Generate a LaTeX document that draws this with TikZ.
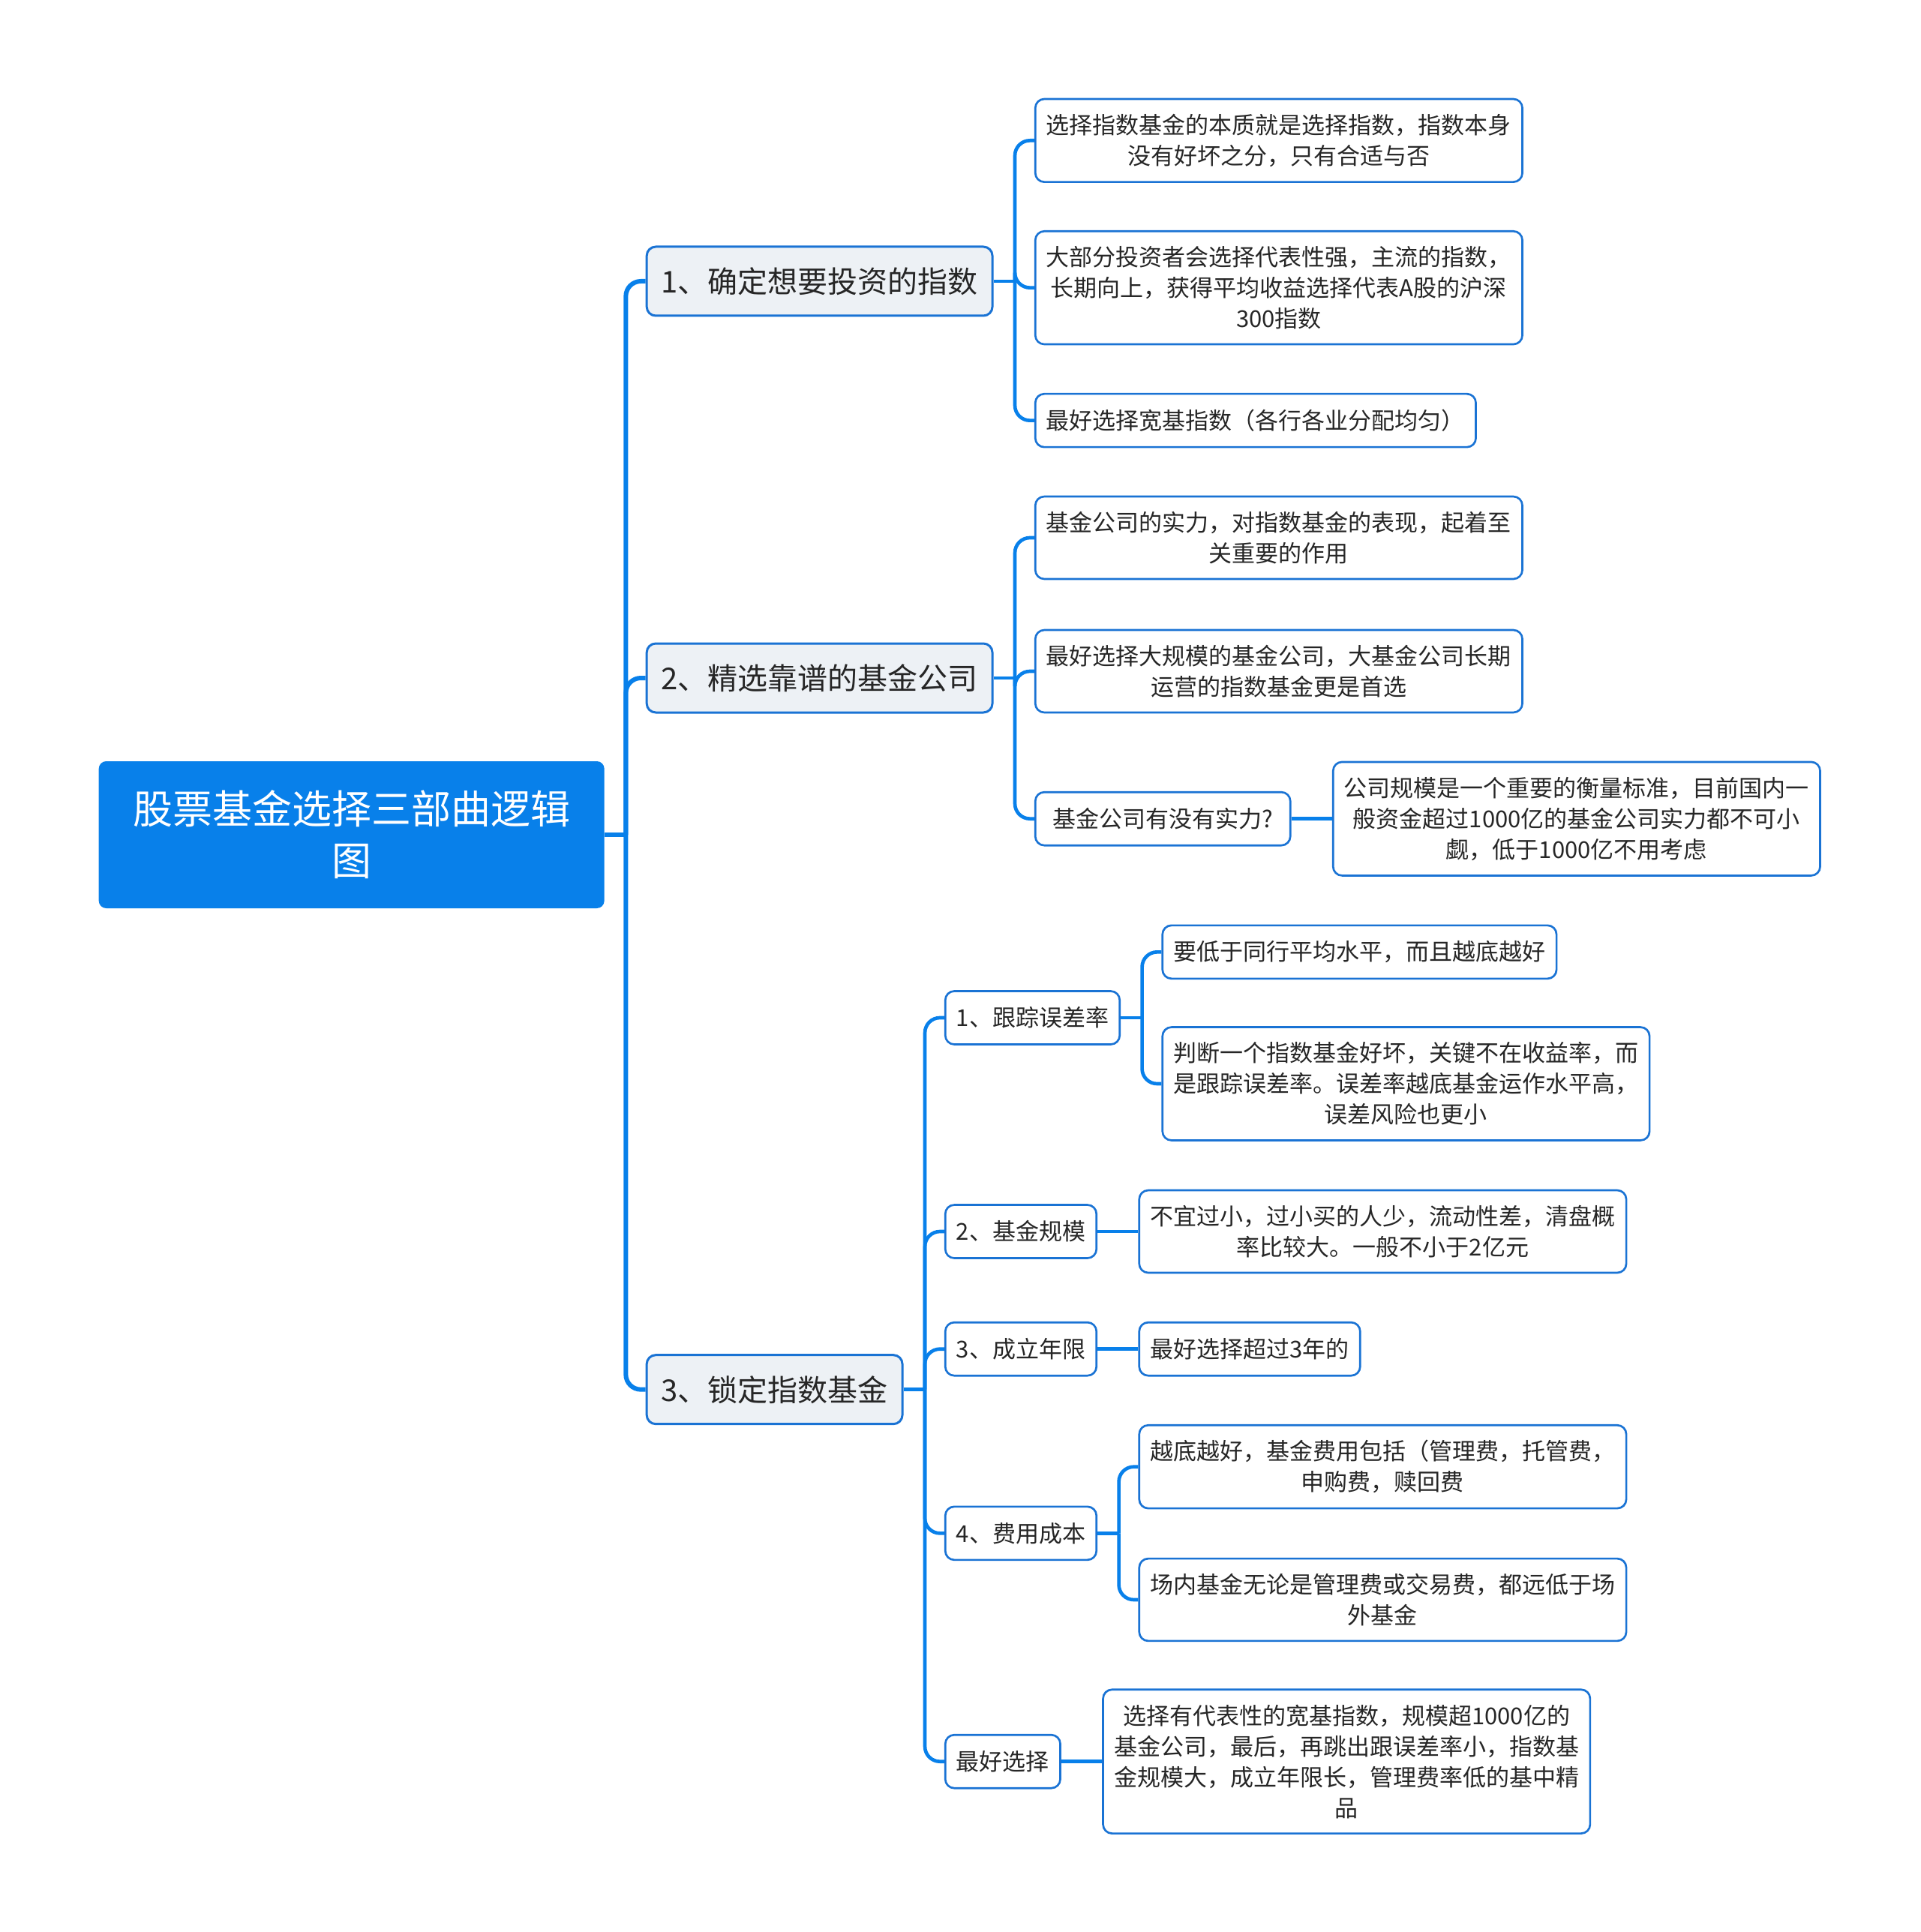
\documentclass[tikz,border=0pt]{standalone}
\usepackage{fontspec}
\setmainfont{Noto Sans CJK SC}
\usepackage{tikz}
\usetikzlibrary{positioning}
\definecolor{mapblue}{RGB}{8,128,234}
\definecolor{edgeblue}{RGB}{26,115,212}
\definecolor{topicgray}{RGB}{237,241,245}
\definecolor{inkgray}{RGB}{38,38,38}

\begin{document}
\begin{tikzpicture}[node distance=16.3pt,every node/.style={text=inkgray},
  root/.style={fill=mapblue,text=white,rounded corners=3pt,align=center,minimum width=202.2pt,minimum height=58.8pt,font=\fontsize{15.9pt}{20.7pt}\selectfont},
  topic/.style={draw=edgeblue,line width=0.9pt,fill=topicgray,rounded corners=3.6pt,inner xsep=5.8pt,minimum height=27.6pt,font=\fontsize{12pt}{15pt}\selectfont},
  sub/.style={draw=edgeblue,line width=0.8pt,fill=white,rounded corners=3.6pt,inner xsep=4.4pt,inner ysep=6pt,minimum height=21.3pt,align=center,font=\fontsize{9.3pt}{12.3pt}\selectfont},
  note/.style={sub,text width=186pt},
  trunk/.style={draw=mapblue,line width=1.8pt,rounded corners=6pt},
  link/.style={draw=mapblue,line width=1.4pt,rounded corners=6pt}]
  \useasboundingbox (0,0) rectangle (768pt,-772.8pt);
  \node (root) [root,anchor=west] at (39.3pt,-333.9pt) {股票基金选择三部曲逻辑\\图};
  \node (l1a) [topic,right=of root,yshift=221.4pt] {1、确定想要投资的指数};
  \node (l1b) [topic,right=of root,yshift=62.7pt] {2、精选靠谱的基金公司};
  \node (l1c) [topic,right=of root,yshift=-221.9pt] {3、锁定指数基金};

  \node (a1) [note,right=of l1a,yshift=56.3pt] {选择指数基金的本质就是选择指数，指数本身\\没有好坏之分，只有合适与否};
  \node (a2) [note,right=of l1a,yshift=-2.6pt] {大部分投资者会选择代表性强，主流的指数，\\长期向上，获得平均收益选择代表A股的沪深\\300指数};
  \node (a3) [sub,right=of l1a,yshift=-55.7pt] {最好选择宽基指数（各行各业分配均匀）};

  \node (b1) [note,right=of l1b,yshift=56.1pt] {基金公司的实力，对指数基金的表现，起着至\\关重要的作用};
  \node (b2) [note,right=of l1b,yshift=2.7pt] {最好选择大规模的基金公司，大基金公司长期\\运营的指数基金更是首选};
  \node (b3) [sub,right=of l1b,yshift=-56.3pt,minimum width=102pt] {基金公司有没有实力?};
  \node (b3a) [note,right=of b3] {公司规模是一个重要的衡量标准，目前国内一\\般资金超过1000亿的基金公司实力都不可小\\觑，低于1000亿不用考虑};

  \node (c1) [sub,right=of l1c,yshift=148.7pt] {1、跟踪误差率};
  \node (c1a) [sub,right=of c1,yshift=26.3pt] {要低于同行平均水平，而且越底越好};
  \node (c1b) [note,right=of c1,yshift=-26.4pt] {判断一个指数基金好坏，关键不在收益率，而\\是跟踪误差率。误差率越底基金运作水平高，\\误差风险也更小};
  \node (c2) [sub,right=of l1c,yshift=63.2pt] {2、基金规模};
  \node (c2a) [note,right=of c2] {不宜过小，过小买的人少，流动性差，清盘概\\率比较大。一般不小于2亿元};
  \node (c3) [sub,right=of l1c,yshift=16.2pt] {3、成立年限};
  \node (c3a) [sub,right=of c3] {最好选择超过3年的};
  \node (c4) [sub,right=of l1c,yshift=-57.5pt] {4、费用成本};
  \node (c4a) [note,right=of c4,yshift=26.6pt] {越底越好，基金费用包括（管理费，托管费，\\申购费，赎回费};
  \node (c4b) [note,right=of c4,yshift=-26.6pt] {场内基金无论是管理费或交易费，都远低于场\\外基金};
  \node (c5) [sub,right=of l1c,yshift=-148.8pt] {最好选择};
  \node (c5a) [note,right=of c5] {选择有代表性的宽基指数，规模超1000亿的\\基金公司，最后，再跳出跟误差率小，指数基\\金规模大，成立年限长，管理费率低的基中精\\品};

  \draw[trunk] (root.east) -- ++(8.4pt,0) coordinate (vr);
  \foreach \t in {l1a,l1b,l1c} \draw[trunk] (vr) |- (\t.west);
  \draw[link] (l1a.east) -- ++(8.55pt,0) coordinate (va);
  \foreach \t in {a1,a2,a3} \draw[link] (va) |- (\t.west);
  \draw[link] (l1b.east) -- ++(8.55pt,0) coordinate (vb);
  \foreach \t in {b1,b2,b3} \draw[link] (vb) |- (\t.west);
  \draw[link] (b3.east) -- (b3a.west);
  \draw[link] (l1c.east) -- ++(8.55pt,0) coordinate (vc);
  \foreach \t in {c1,c2,c3,c4,c5} \draw[link] (vc) |- (\t.west);
  \draw[link] (c1.east) -- ++(8.55pt,0) coordinate (vc1);
  \foreach \t in {c1a,c1b} \draw[link] (vc1) |- (\t.west);
  \draw[link] (c2.east) -- (c2a.west);
  \draw[link] (c3.east) -- (c3a.west);
  \draw[link] (c4.east) -- ++(8.55pt,0) coordinate (vc4);
  \foreach \t in {c4a,c4b} \draw[link] (vc4) |- (\t.west);
  \draw[link] (c5.east) -- (c5a.west);
\end{tikzpicture}
\end{document}
